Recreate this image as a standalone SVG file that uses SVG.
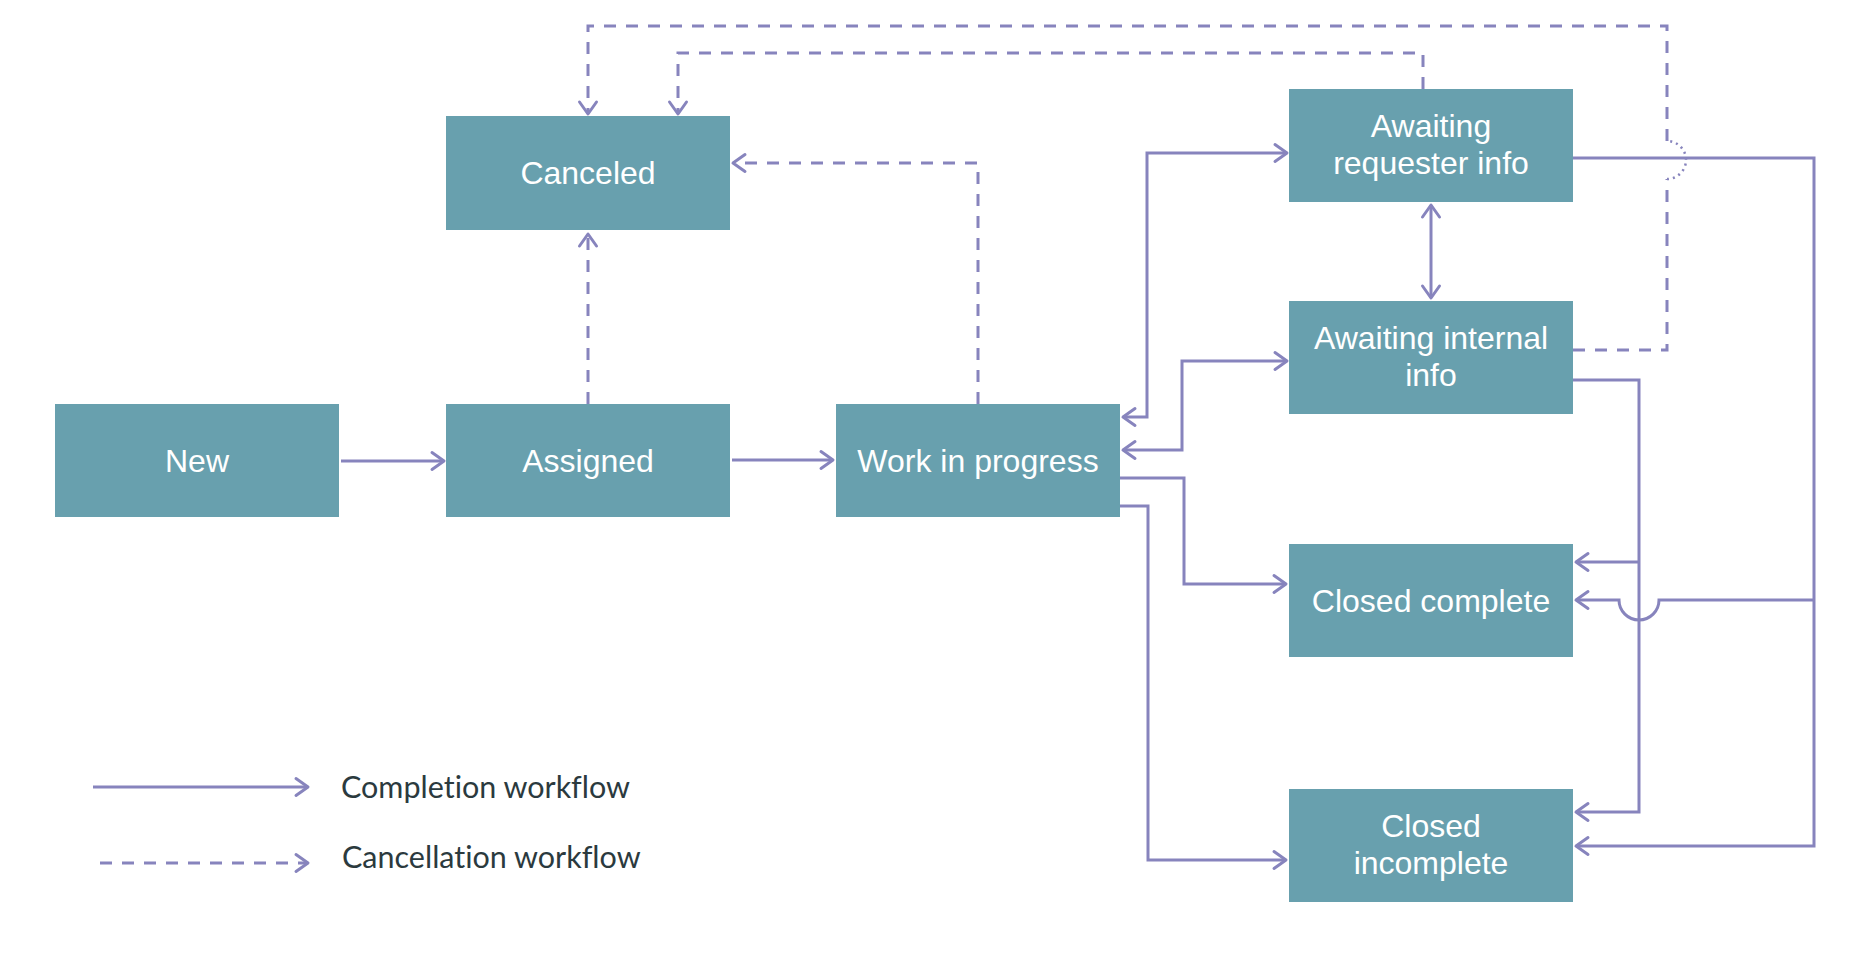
<svg xmlns="http://www.w3.org/2000/svg" width="1876" height="968" viewBox="0 0 1876 968">
<style>
.box{fill:#68A0AE}
.lbl{fill:#ffffff;font-family:"Liberation Sans",Arial,sans-serif;font-size:32px;text-anchor:middle}
.c{fill:none;stroke:#8784BD;stroke-width:3}
.d{fill:none;stroke:#8784BD;stroke-width:3;stroke-dasharray:12 10}
.dot{fill:none;stroke:#8784BD;stroke-width:2.5;stroke-dasharray:2 4}
.leg{fill:#2B3A3E;font-family:"Lato","Open Sans",sans-serif;font-size:30.5px;font-variant-ligatures:none}
</style>
<defs>
<marker id="ah" markerUnits="userSpaceOnUse" markerWidth="30" markerHeight="30" viewBox="-15 -15 30 30" refX="0" refY="0" orient="auto-start-reverse">
<path d="M-12 -8.5 L0 0 L-12 8.5" fill="none" stroke="#8784BD" stroke-width="3" stroke-linecap="round" stroke-linejoin="round"/>
</marker>
</defs>
<rect width="1876" height="968" fill="#ffffff"/>
<g id="connectors">
<path class="c" d="M341 461 H444" marker-end="url(#ah)"/>
<path class="c" d="M732 460 H833" marker-end="url(#ah)"/>
<path class="c" d="M1123 417 H1147 V153 H1287" marker-start="url(#ah)" marker-end="url(#ah)"/>
<path class="c" d="M1123 450 H1182 V361 H1287" marker-start="url(#ah)" marker-end="url(#ah)"/>
<path class="c" d="M1120 478 H1184 V584 H1286" marker-end="url(#ah)"/>
<path class="c" d="M1120 506 H1148 V860 H1286" marker-end="url(#ah)"/>
<path class="c" d="M1431 205 V298" marker-start="url(#ah)" marker-end="url(#ah)"/>
<path class="c" d="M1573 158 H1814 V846 H1576" marker-end="url(#ah)"/>
<path class="c" d="M1814 600 H1659 A20 20 0 0 1 1619 600 H1576" marker-end="url(#ah)"/>
<path class="c" d="M1573 380 H1639 V812 H1576" marker-end="url(#ah)"/>
<path class="c" d="M1639 562 H1576" marker-end="url(#ah)"/>
<path class="d" d="M588 404 V234" marker-end="url(#ah)"/>
<path class="d" d="M978 404 V163 H733" marker-end="url(#ah)"/>
<path class="d" d="M1423 89 V53 H678 V114" marker-end="url(#ah)"/>
<path class="d" d="M1573 350 H1667 V179"/>
<path class="dot" d="M1667 179 A19 19 0 0 0 1667 141"/>
<path class="d" d="M1667 141 V26 H588 V114" marker-end="url(#ah)"/>
</g>
<g id="node-new"><rect class="box" x="55" y="404" width="284" height="113"/><text class="lbl" x="197" y="472">New</text></g>
<g id="node-assigned"><rect class="box" x="446" y="404" width="284" height="113"/><text class="lbl" x="588" y="472">Assigned</text></g>
<g id="node-canceled"><rect class="box" x="446" y="116" width="284" height="114"/><text class="lbl" x="588" y="184">Canceled</text></g>
<g id="node-wip"><rect class="box" x="836" y="404" width="284" height="113"/><text class="lbl" x="978" y="472">Work in progress</text></g>
<g id="node-awaiting-requester"><rect class="box" x="1289" y="89" width="284" height="113"/><text class="lbl" x="1431" y="137">Awaiting</text><text class="lbl" x="1431" y="174">requester info</text></g>
<g id="node-awaiting-internal"><rect class="box" x="1289" y="301" width="284" height="113"/><text class="lbl" x="1431" y="349">Awaiting internal</text><text class="lbl" x="1431" y="386">info</text></g>
<g id="node-closed-complete"><rect class="box" x="1289" y="544" width="284" height="113"/><text class="lbl" x="1431" y="612">Closed complete</text></g>
<g id="node-closed-incomplete"><rect class="box" x="1289" y="789" width="284" height="113"/><text class="lbl" x="1431" y="837">Closed</text><text class="lbl" x="1431" y="874">incomplete</text></g>
<g id="legend">
<path class="c" d="M93 787 H308" stroke-width="3.5" marker-end="url(#ah)"/>
<path class="d" d="M100 863 H308" stroke-width="3.5" marker-end="url(#ah)"/>
<text class="leg" x="341" y="798">Completion workflow</text>
<text class="leg" x="342" y="868">Cancellation workflow</text>
</g>
</svg>
